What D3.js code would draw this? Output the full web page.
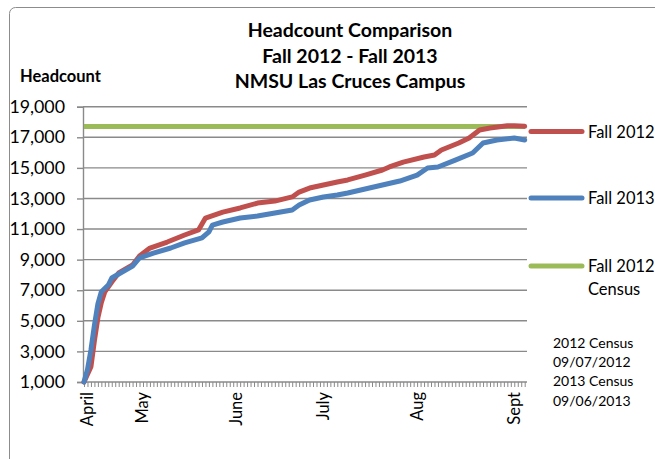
<!DOCTYPE html>
<html>
<head>
<meta charset="utf-8">
<script src="https://d3js.org/d3.v7.min.js"></script>
<style>
  html, body { margin: 0; padding: 0; background: #fff; }
  svg { display: block; font-family: Lato, "Open Sans", sans-serif; }
</style>
</head>
<body>
<div id="chart"></div>
<script>
// Headcount by category index (roughly one per working day, April -> Sept)
const fall2012 = [
  [0, 1000], [2, 2000], [3, 3700], [4, 5200], [5, 6200], [6, 6900], [8, 7540], [10, 8130],
  [13, 8520], [14, 8650], [16, 9240], [19, 9760], [24, 10150], [29, 10610],
  [33, 10940], [35, 11720], [40, 12110], [45, 12380], [50, 12700], [55, 12830],
  [60, 13100], [62, 13420], [65, 13680], [69, 13880], [73, 14080], [76, 14210],
  [81, 14530], [86, 14860], [88, 15060], [92, 15380], [98, 15710], [101, 15840],
  [103, 16170], [108, 16630], [111, 16950], [114, 17480], [117, 17610],
  [122, 17760], [124, 17760], [127, 17720]
];
const fall2013 = [
  [0, 1000], [1, 1800], [2, 3100], [3, 4700], [4, 6100], [5, 6900], [7, 7340], [8, 7800],
  [11, 8190], [13, 8450], [14, 8580], [16, 9110], [20, 9430], [25, 9760],
  [29, 10090], [34, 10420], [36, 10810], [37, 11260], [40, 11460], [45, 11720],
  [50, 11850], [55, 12050], [60, 12250], [62, 12570], [65, 12900], [69, 13100],
  [73, 13230], [76, 13360], [81, 13620], [86, 13880], [91, 14140], [96, 14530],
  [99, 14990], [102, 15060], [107, 15510], [112, 15970], [115, 16630],
  [119, 16820], [124, 16950], [127, 16820]
];
const census2012 = 17700;
const nCategories = 128;
const monthLabels = ['April', 'May', 'June', 'July', 'Aug', 'Sept'];
const monthIndex = [1, 17, 44, 69, 96, 124];
const yTicks = [1000, 3000, 5000, 7000, 9000, 11000, 13000, 15000, 17000, 19000];
const titleLines = ['Headcount Comparison', 'Fall 2012 - Fall 2013', 'NMSU Las Cruces Campus'];
const legendItems = [
  { name: ['Fall 2012'], color: '#C0504D' },
  { name: ['Fall 2013'], color: '#4F81BD' },
  { name: ['Fall 2012', 'Census'], color: '#9BBB59' }
];
const notes = ['2012 Census', '09/07/2012', '2013 Census', '09/06/2013'];

const W = 655, H = 459;
const plot = { left: 83, right: 527, top: 106.7, bottom: 382 };

const svg = d3.select('#chart').append('svg')
  .attr('width', W).attr('height', H);

// chart border (runs off the right/bottom edge in the original)
svg.append('rect')
  .attr('x', 9.5).attr('y', 7.5).attr('width', 700).attr('height', 500)
  .attr('rx', 6)
  .attr('fill', '#fff').attr('stroke', '#8c8c8c').attr('stroke-width', 1);

const x = d3.scaleLinear().domain([0, nCategories - 1]).range([plot.left + 1, plot.left + 1 + (nCategories - 1) * 3.47]);
const y = d3.scaleLinear().domain([1000, 19000]).range([plot.bottom, plot.top]);

// gridlines
svg.append('g')
  .selectAll('line')
  .data(yTicks.slice(1))
  .join('line')
  .attr('x1', plot.left).attr('x2', plot.right)
  .attr('y1', d => y(d)).attr('y2', d => y(d))
  .attr('stroke', '#8a8a8a').attr('stroke-width', 1.4);

// y axis
const yAxis = svg.append('g')
  .attr('transform', 'translate(' + plot.left + ',0)')
  .call(d3.axisLeft(y).tickValues(yTicks).tickFormat(d3.format(',')).tickSize(6).tickPadding(12));
yAxis.select('.domain').attr('stroke', '#8a8a8a').attr('stroke-width', 1.4);
yAxis.selectAll('.tick line').attr('stroke', '#8a8a8a').attr('stroke-width', 1.4);
yAxis.selectAll('.tick text')
  .attr('font-size', '17.8px').attr('fill', '#000')
  .style('font-family', 'Lato, "Open Sans", sans-serif');

// x axis: a tick for every category
const xAxis = svg.append('g')
  .attr('transform', 'translate(0,' + plot.bottom + ')')
  .call(d3.axisBottom(x).tickValues(d3.range(nCategories)).tickSize(5).tickFormat(''));
xAxis.select('.domain').remove();
xAxis.selectAll('.tick line').attr('stroke', '#8a8a8a').attr('stroke-width', 1);
svg.append('line')
  .attr('x1', plot.left).attr('x2', plot.right)
  .attr('y1', plot.bottom).attr('y2', plot.bottom)
  .attr('stroke', '#8a8a8a').attr('stroke-width', 1.4);

// month labels (rotated)
svg.append('g')
  .selectAll('text')
  .data(monthLabels)
  .join('text')
  .attr('transform', (d, i) => 'translate(' + (x(monthIndex[i]) + 5.5) + ',' + (plot.bottom + 10) + ') rotate(-90)')
  .attr('text-anchor', 'end')
  .attr('font-size', '16.5px')
  .text(d => d);

// lines
const line = d3.line().x(d => x(d[0])).y(d => y(d[1]));

svg.append('line')
  .attr('x1', plot.left + 1).attr('x2', plot.right - 2)
  .attr('y1', y(census2012)).attr('y2', y(census2012))
  .attr('stroke', '#9BBB59').attr('stroke-width', 5);

svg.append('path')
  .datum(fall2012)
  .attr('d', line)
  .attr('fill', 'none')
  .attr('stroke', '#C0504D').attr('stroke-width', 5)
  .attr('stroke-linejoin', 'round').attr('stroke-linecap', 'round');

svg.append('path')
  .datum(fall2013)
  .attr('d', line)
  .attr('fill', 'none')
  .attr('stroke', '#4F81BD').attr('stroke-width', 5)
  .attr('stroke-linejoin', 'round').attr('stroke-linecap', 'round');

// title
svg.append('g')
  .selectAll('text')
  .data(titleLines)
  .join('text')
  .attr('x', 350).attr('y', (d, i) => 37 + i * 25.5)
  .attr('text-anchor', 'middle')
  .attr('font-size', '19.5px').attr('font-weight', 'bold')
  .text(d => d);

svg.append('text')
  .attr('x', 20).attr('y', 82)
  .attr('font-size', '16.5px').attr('font-weight', 'bold')
  .text('Headcount');

// legend
const legendY = [131.5, 198, 266];
const lg = svg.append('g')
  .selectAll('g')
  .data(legendItems)
  .join('g')
  .attr('transform', (d, i) => 'translate(531,' + legendY[i] + ')');
lg.append('line')
  .attr('x1', 0).attr('x2', 51)
  .attr('stroke', d => d.color).attr('stroke-width', 5).attr('stroke-linecap', 'round');
lg.append('text')
  .attr('x', 57).attr('y', 6)
  .attr('font-size', '16.5px')
  .selectAll('tspan')
  .data(d => d.name)
  .join('tspan')
  .attr('x', 57).attr('dy', (d, i) => i === 0 ? 0 : 23)
  .text(d => d);

// census notes
svg.append('g')
  .selectAll('text')
  .data(notes)
  .join('text')
  .attr('x', 553).attr('y', (d, i) => 348 + i * 19.2)
  .attr('font-size', '14px')
  .text(d => d);
</script>
</body>
</html>
